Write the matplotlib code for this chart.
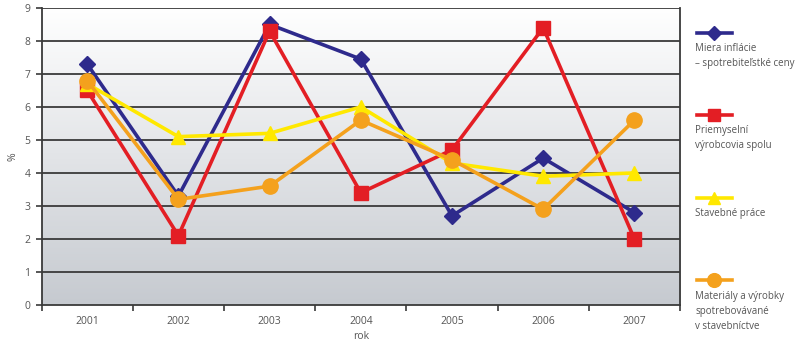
import numpy as np
import matplotlib.pyplot as plt
from matplotlib.lines import Line2D

years = ['2001', '2002', '2003', '2004', '2005', '2006', '2007']
inflacia = [7.3, 3.3, 8.5, 7.45, 2.7, 4.45, 2.8]
priemysel = [6.5, 2.1, 8.3, 3.4, 4.7, 8.4, 2.0]
stavebne = [6.7, 5.1, 5.2, 6.0, 4.3, 3.9, 4.0]
materialy = [6.8, 3.2, 3.6, 5.6, 4.4, 2.9, 5.6]

labels = ['Miera inflácie\n– spotrebiteľstké ceny',
          'Priemyselní\nvýrobcovia spolu',
          'Stavebné práce',
          'Materiály a výrobky\nspotrebovávané\nv stavebníctve']
colors = ['#2e2a8c', '#e31e24', '#ffe800', '#f4a11d']
markers = ['D', 's', '^', 'o']
msizes = [8, 10, 10, 11]
series = [inflacia, priemysel, stavebne, materialy]

txt = '#555555'
plt.rcParams['font.family'] = 'Open Sans'

fig = plt.figure(figsize=(8, 3.45), dpi=100)
ax = fig.add_axes([0.052, 0.116, 0.798, 0.861])

# background gradient, white at top to grey at bottom
grad = np.linspace(0, 1, 256).reshape(-1, 1)
cmap = plt.matplotlib.colors.LinearSegmentedColormap.from_list('bg', ['#ffffff', '#c6cad0'])
ax.imshow(grad, extent=[-0.5, 6.5, 0, 9], origin='upper', cmap=cmap,
          aspect='auto', zorder=0)

for v in range(1, 10):
    ax.axhline(v, color='#3a3a3a', lw=1.3, zorder=1)

x = np.arange(len(years))
for s, c, m, ms in zip(series, colors, markers, msizes):
    ax.plot(x, s, color=c, lw=2.6, marker=m, markersize=ms, zorder=3)

ax.set_xlim(-0.5, 6.5)
ax.set_ylim(0, 9)
ax.set_yticks(range(10))
ax.set_xticks(x)
ax.set_xticklabels(years)
ax.set_xticks(np.arange(-0.5, 7, 1), minor=True)
ax.tick_params(axis='x', which='major', length=0, pad=8, labelsize=7.5, labelcolor=txt)
ax.tick_params(axis='x', which='minor', length=4, width=1.2, color='#3a3a3a')
ax.tick_params(axis='y', length=4, width=1.2, color='#3a3a3a', labelsize=7.5, labelcolor=txt, pad=4)
for sp in ['left', 'bottom', 'right']:
    ax.spines[sp].set_color('#3a3a3a')
    ax.spines[sp].set_linewidth(1.3)
ax.spines['top'].set_visible(False)
ax.set_xlabel('rok', fontsize=7.5, color=txt, labelpad=3)
ax.set_ylabel('%', fontsize=7.5, color=txt, labelpad=4)

# legend on the right, text below each key
key_y = [0.905, 0.667, 0.427, 0.187]
for c, m, ms, lab, ky in zip(colors, markers, msizes, labels, key_y):
    fig.add_artist(Line2D([0.871, 0.915], [ky, ky], transform=fig.transFigure,
                          color=c, lw=2.6))
    fig.add_artist(Line2D([0.893], [ky], transform=fig.transFigure,
                          color=c, marker=m, markersize=ms * 0.9))
    fig.text(0.869, ky - 0.03, lab, fontsize=7, color=txt, va='top',
             ha='left', linespacing=1.5)

fig.savefig('out.png', dpi=100)
